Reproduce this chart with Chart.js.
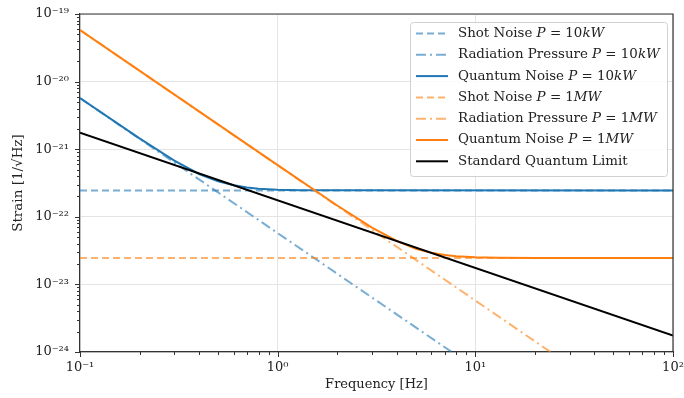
<!DOCTYPE html>
<html>
<head>
<script src="https://cdn.jsdelivr.net/npm/chart.js@4.4.1/dist/chart.umd.min.js"></script>
<style>
  html, body { margin: 0; padding: 0; background: #fff; }
  #wrap { width: 684px; height: 398px; }
</style>
</head>
<body>
<div id="wrap"><canvas id="myChart" width="684" height="398"></canvas></div>
<script>
// values
const freqFlat = [0.1, 100];
const shot10kW = [2.45e-22, 2.45e-22];
const shot1MW = [2.45e-23, 2.45e-23];

const freqRad10kW = [0.1, 7.6];
const rad10kW = [5.7e-21, 1e-24];
const freqRad1MW = [0.1, 24];
const rad1MW = [5.8e-20, 1e-24];

const freqQn10kW = [0.1, 0.2, 0.3, 0.4, 0.5, 0.6, 0.7, 0.8, 1, 1.3, 2, 100];
const qn10kW = [5.7e-21, 1.45e-21, 6.8e-22, 4.3e-22, 3.35e-22, 2.92e-22, 2.72e-22, 2.61e-22, 2.52e-22, 2.48e-22, 2.46e-22, 2.45e-22];
const freqQn1MW = [0.1, 1, 2, 3, 4, 5, 6, 7, 8, 10, 13, 20, 100];
const qn1MW = [5.8e-20, 5.8e-22, 1.47e-22, 6.9e-23, 4.4e-23, 3.37e-23, 2.93e-23, 2.72e-23, 2.61e-23, 2.52e-23, 2.48e-23, 2.46e-23, 2.45e-23];

const freqSql = [0.1, 100];
const sql = [1.75e-21, 1.75e-24];

const labels = [
  'Shot Noise P = 10kW',
  'Radiation Pressure P = 10kW',
  'Quantum Noise P = 10kW',
  'Shot Noise P = 1MW',
  'Radiation Pressure P = 1MW',
  'Quantum Noise P = 1MW',
  'Standard Quantum Limit'
];

const BLUE = '#1f77b4', BLUE_L = 'rgba(31,119,180,0.6)';
const ORANGE = '#ff7f0e', ORANGE_L = 'rgba(255,127,14,0.6)';
const DASH = [7, 4], DASHDOT = [10, 4, 2, 4];
const FONT = "'DejaVu Serif', serif";

const pts = (xs, ys) => xs.map((x, i) => ({x: x, y: ys[i]}));

const series = [
  {x: freqFlat, y: shot10kW, color: BLUE_L, dash: DASH},
  {x: freqRad10kW, y: rad10kW, color: BLUE_L, dash: DASHDOT},
  {x: freqQn10kW, y: qn10kW, color: BLUE, dash: []},
  {x: freqFlat, y: shot1MW, color: ORANGE_L, dash: DASH},
  {x: freqRad1MW, y: rad1MW, color: ORANGE_L, dash: DASHDOT},
  {x: freqQn1MW, y: qn1MW, color: ORANGE, dash: []},
  {x: freqSql, y: sql, color: '#000', dash: []}
];

const datasets = series.map((s, i) => ({
  label: labels[i],
  data: pts(s.x, s.y),
  borderColor: s.color,
  borderDash: s.dash,
  borderWidth: 2,
  pointRadius: 0,
  tension: 0,
  fill: false,
  order: series.length - i
}));

const isMajor = v => Math.abs(Math.log10(v) - Math.round(Math.log10(v))) < 1e-6;
const SUP = {'-': '⁻', '0': '⁰', '1': '¹', '2': '²', '3': '³', '4': '⁴', '5': '⁵', '6': '⁶', '7': '⁷', '8': '⁸', '9': '⁹'};
const powLabel = v => {
  if (!isMajor(v)) return '';
  const e = String(Math.round(Math.log10(v)));
  return '10' + e.split('').map(c => SUP[c]).join('');
};
const keepTicks = scale => {
  scale.ticks = scale.ticks.filter(t => {
    const m = t.value / Math.pow(10, Math.floor(Math.log10(t.value) + 1e-9));
    return Math.abs(m - Math.round(m)) < 1e-6;
  });
};
const noPad = s => { s.paddingTop = 0; s.paddingBottom = 0; s.paddingLeft = 0; s.paddingRight = 0; };

// tick marks (major + minor), frame, and legend inside the plot
const decor = {
  id: 'decor',
  afterDraw(chart) {
    const ctx = chart.ctx;
    const a = chart.chartArea;
    const sx = chart.scales.x, sy = chart.scales.y;
    ctx.save();
    ctx.strokeStyle = '#333';
    ctx.lineWidth = 1.2;
    ctx.beginPath();
    ctx.moveTo(a.left, a.top); ctx.lineTo(a.right, a.top); ctx.lineTo(a.right, a.bottom);
    ctx.stroke();

    ctx.lineWidth = 1;
    ctx.beginPath();
    for (let e = -1; e <= 2; e++) {
      for (let m = 1; m <= 9; m++) {
        const v = m * Math.pow(10, e);
        if (v > 100.0001) break;
        const px = Math.round(sx.getPixelForValue(v)) + 0.5;
        ctx.moveTo(px, a.bottom); ctx.lineTo(px, a.bottom + (m === 1 ? 5 : 3));
      }
    }
    for (let e = -24; e <= -19; e++) {
      for (let m = 1; m <= 9; m++) {
        const v = m * Math.pow(10, e);
        if (e === -19 && m > 1) break;
        const py = Math.round(sy.getPixelForValue(v)) + 0.5;
        ctx.moveTo(a.left, py); ctx.lineTo(a.left - (m === 1 ? 5 : 3), py);
      }
    }
    ctx.stroke();

    const x0 = 410, y0 = 22, w = 257, h = 154;
    ctx.fillStyle = 'rgba(255,255,255,0.85)';
    ctx.strokeStyle = '#d0d0d0';
    ctx.lineWidth = 1;
    ctx.beginPath();
    ctx.roundRect(x0 + 0.5, y0 + 0.5, w, h, 3);
    ctx.fill(); ctx.stroke();

    ctx.textBaseline = 'middle';
    chart.data.datasets.forEach((ds, i) => {
      const y = y0 + 11.5 + i * 21.3;
      ctx.strokeStyle = ds.borderColor;
      ctx.setLineDash(ds.borderDash);
      ctx.lineWidth = 2;
      ctx.beginPath();
      ctx.moveTo(416, y); ctx.lineTo(448, y);
      ctx.stroke();
      ctx.setLineDash([]);

      ctx.fillStyle = '#222';
      let x = 458;
      const k = ds.label.indexOf(' P = ');
      const plain = k < 0 ? ds.label : ds.label.slice(0, k + 1);
      const math = k < 0 ? '' : ds.label.slice(k + 1);
      ctx.font = '13.4px ' + FONT;
      ctx.fillText(plain, x, y);
      x += ctx.measureText(plain).width;
      for (const c of math) {
        ctx.font = (/[A-Za-z]/.test(c) ? 'italic ' : '') + '13.4px ' + FONT;
        ctx.fillText(c, x, y);
        x += ctx.measureText(c).width;
      }
    });
    ctx.restore();
  }
};

const config = {
  type: 'line',
  data: {datasets: datasets},
  options: {
    responsive: false,
    animation: false,
    layout: {padding: {top: 14, right: 11, left: 0, bottom: 0}},
    plugins: {legend: {display: false}, tooltip: {enabled: false}},
    scales: {
      x: {
        type: 'logarithmic',
        min: 0.1, max: 100,
        afterBuildTicks: keepTicks,
        afterFit: s => { s.height = 46; noPad(s); },
        grid: {
          color: c => isMajor(c.tick.value) ? '#e4e4e4' : 'rgba(0,0,0,0)',
          drawTicks: false,
          lineWidth: 1
        },
        border: {color: '#333', width: 1.2},
        ticks: {
          autoSkip: false, maxRotation: 0, padding: 8,
          color: '#222', font: {family: FONT, size: 13},
          callback: v => powLabel(v)
        },
        title: {display: true, text: 'Frequency [Hz]', color: '#222', font: {family: FONT, size: 13}, padding: {top: 2, bottom: 6}}
      },
      y: {
        type: 'logarithmic',
        min: 1e-24, max: 1e-19,
        afterBuildTicks: keepTicks,
        afterFit: s => { s.width = 80; noPad(s); },
        grid: {
          color: c => isMajor(c.tick.value) ? '#e4e4e4' : 'rgba(0,0,0,0)',
          drawTicks: false,
          lineWidth: 1
        },
        border: {color: '#333', width: 1.2},
        ticks: {
          autoSkip: false, padding: 11,
          color: '#222', font: {family: FONT, size: 13},
          callback: v => powLabel(v)
        },
        title: {display: true, text: 'Strain [1/√Hz]', color: '#222', font: {family: FONT, size: 13.5}, padding: {top: 10, bottom: 0}}
      }
    }
  },
  plugins: [decor]
};

const myChart = new Chart(document.getElementById('myChart'), config);
</script>
</body>
</html>
